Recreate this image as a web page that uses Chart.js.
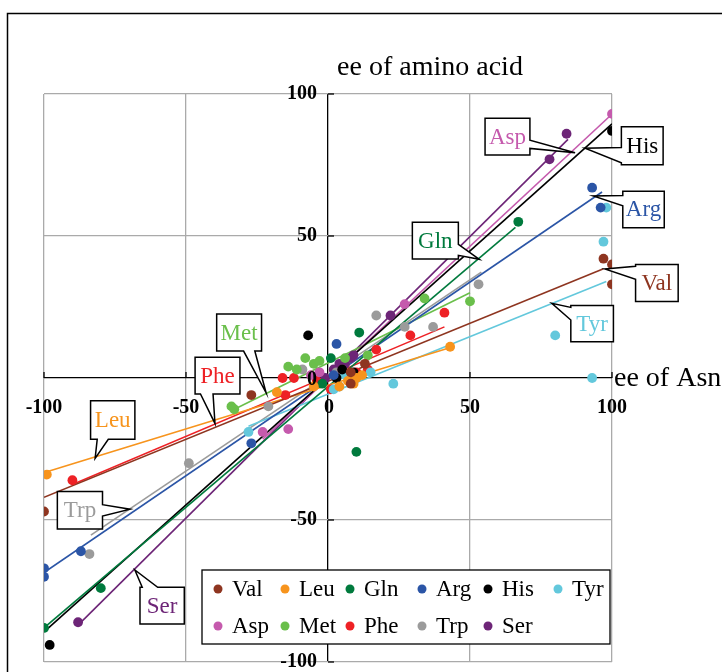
<!DOCTYPE html>
<html><head><meta charset="utf-8">
<script src="https://cdn.jsdelivr.net/npm/chart.js@4"></script>
<style>html,body{margin:0;padding:0;background:#fff}#wrap{width:722px;height:672px;position:relative}</style>
</head><body><div id="wrap"><canvas id="c" width="722" height="672"></canvas></div>
<script>
// ---- Data ----
const seriesNames = ['Val','Leu','Gln','Arg','His','Tyr','Asp','Met','Phe','Trp','Ser'];
const seriesColors = ['#8e3520','#f7941d','#007a3d','#2b55a6','#000000','#63c8dc','#c55aad','#6abf4b','#ee2125','#9b9b9b','#6d2577'];
const xTicks = [-100,-50,0,50,100];
const yTicks = [-100,-50,0,50,100];

const valPts = [[-100,-47],[-27,-6],[8,-2],[13,5],[8,2],[97,42],[100,40],[100,33]];
const leuPts = [[-99,-34],[-18,-5],[7,-1],[10,0],[12,1],[43,11],[-5,-3],[4,-3],[9,-2]];
const glnPts = [[-100,-88],[-80,-74],[1,7],[11,16],[10,-26],[67,55],[-2,-2]];
const argPts = [[-100,-67],[-100,-70],[-87,-61],[-27,-23],[3,12],[93,67],[96,60],[2,1]];
const hisPts = [[-98,-94],[-7,15],[9,2],[100,87],[3,0],[5,3]];
const tyrPts = [[-28,-19],[4,-3],[15,2],[23,-2],[80,15],[93,0],[97,48],[98,60],[6,1],[2,-4]];
const aspPts = [[-23,-19],[-14,-18],[-3,2],[27,26],[100,93],[5,3],[-6,1]];
const metPts = [[-34,-10],[-33,-11],[-11,3],[-5,5],[-3,6],[6,7],[14,8],[34,28],[50,27],[-8,7],[-14,4]];
const phePts = [[-90,-36],[-15,-6],[-12,0],[1,-4],[14,3],[17,10],[29,15],[41,23],[-16,0],[-4,-1],[10,2]];
const trpPts = [[-84,-62],[-49,-30],[-21,-10],[-9,3],[17,22],[27,18],[37,18],[53,33],[3,2]];
const serPts = [[-88,-86],[-1,0],[4,5],[8,7],[22,22],[78,77],[84,86],[2,3],[6,5],[9,8]];

// trend line end points [x1,y1,x2,y2]
const valTrend = [-100,-42,97,38.5];
const leuTrend = [-99,-33,44,11];
const glnTrend = [-100,-88,66,53];
const argTrend = [-100,-68.5,96.5,65.5];
const hisTrend = [-99,-88.5,100,89.5];
const tyrTrend = [-28,-17,98,34];
const aspTrend = [-23,-21.5,99,92];
const metTrend = [-33.5,-11.3,50,30];
const pheTrend = [-90,-37.5,41,18];
const trpTrend = [-83.5,-55.3,54,37.3];
const serTrend = [-87.3,-86.3,84.5,84];

const allPts = [valPts,leuPts,glnPts,argPts,hisPts,tyrPts,aspPts,metPts,phePts,trpPts,serPts];
const allTrends = [valTrend,leuTrend,glnTrend,argTrend,hisTrend,tyrTrend,aspTrend,metTrend,pheTrend,trpTrend,serTrend];

// callouts: box in data units [x1,x2,y1,y2], side of wedge, wedge base fractions, tip in data units
const callouts = {
  Asp:{box:[55.3,71.1,78.5,91.5],side:'right',f:[0.6,0.82],tip:[87,79.3]},
  His:{box:[103.3,118,75.1,88.5],side:'left',f:[0.55,0.95],tip:[90.5,80.9]},
  Arg:{box:[103.8,118.4,52.9,65.8],side:'left',f:[0.12,0.4],tip:[93.4,64.1]},
  Val:{box:[108.3,123.3,26.9,40],side:'left',f:[0.05,0.4],tip:[97.5,38.4]},
  Tyr:{box:[85.5,100.5,12.8,25.5],side:'left',f:[0.05,0.4],tip:[78.8,26.3]},
  Gln:{box:[29.7,45.9,41.9,54.8],side:'right',f:[0.6,0.9],tip:[53.3,41.8]},
  Met:{box:[-39.2,-23.4,9.5,22.5],side:'bottom',f:[0.6,0.85],tip:[-21.8,-5.2]},
  Phe:{box:[-46.8,-31,-5.6,7.3],side:'bottom',f:[0.12,0.4],tip:[-39.8,-16]},
  Leu:{box:[-83.6,-68,-21.6,-8],side:'bottom',f:[0.15,0.4],tip:[-82,-28.3]},
  Trp:{box:[-95.3,-79.4,-53.2,-40],side:'right',f:[0.35,0.65],tip:[-69.7,-46.2]},
  Ser:{box:[-66.2,-50.6,-86.6,-73.7],side:'top',f:[0.05,0.4],tip:[-68,-67.6]}
};

const datasets = [];
seriesNames.forEach((n,i)=>{
  const t = allTrends[i];
  datasets.push({label:n+' trend',data:[{x:t[0],y:t[1]},{x:t[2],y:t[3]}],showLine:true,pointRadius:0,borderColor:seriesColors[i],borderWidth:1.6,order:2});
});
seriesNames.forEach((n,i)=>{
  datasets.push({label:n,data:allPts[i].map(p=>({x:p[0],y:p[1]})),showLine:false,pointRadius:4.9,pointBorderWidth:0,backgroundColor:seriesColors[i],borderColor:seriesColors[i],order:1});
});

const SERIF = "'Liberation Serif','Times New Roman',serif";

const decor = {
  id:'decor',
  beforeDraw(chart){
    const c = chart.ctx;
    c.save(); c.fillStyle='#fff'; c.fillRect(0,0,chart.width,chart.height); c.restore();
  },
  afterDraw(chart){
    const c = chart.ctx, xs = chart.scales.x, ys = chart.scales.y;
    const x0 = xs.getPixelForValue(0), y0 = ys.getPixelForValue(0);
    c.save();
    // tick marks
    c.strokeStyle='#000'; c.lineWidth=1.3;
    xTicks.forEach(v=>{ if(v===0) return; const px=xs.getPixelForValue(v); c.beginPath(); c.moveTo(px,y0); c.lineTo(px,y0-6); c.stroke();});
    yTicks.forEach(v=>{ if(v===0) return; const py=ys.getPixelForValue(v); c.beginPath(); c.moveTo(x0,py); c.lineTo(x0+6,py); c.stroke();});
    // tick labels
    c.fillStyle='#000'; c.font='bold 20px '+SERIF;
    c.textAlign='center'; c.textBaseline='middle';
    xTicks.forEach(v=>{ c.fillText(String(v), xs.getPixelForValue(v)+(v===0?1:0), y0+30); });
    c.textAlign='right';
    yTicks.forEach(v=>{ c.fillText(String(v), x0-11, ys.getPixelForValue(v)+(v===0?2:0)); });
    // axis titles
    c.font='28px '+SERIF; c.textAlign='center'; c.textBaseline='alphabetic';
    c.fillText('ee of amino acid', 430, 75);
    c.textAlign='left'; c.textBaseline='middle';
    c.fillText('ee of Asn', xs.getPixelForValue(100)+2, y0+1);
    // callouts
    seriesNames.forEach((n,i)=>{
      const co = callouts[n]; if(!co) return;
      const L=xs.getPixelForValue(co.box[0]), R=xs.getPixelForValue(co.box[1]);
      const T=ys.getPixelForValue(co.box[3]), B=ys.getPixelForValue(co.box[2]);
      const tx=xs.getPixelForValue(co.tip[0]), ty=ys.getPixelForValue(co.tip[1]);
      const W=R-L, H=B-T;
      c.beginPath();
      c.moveTo(L,T);
      if(co.side==='top'){ c.lineTo(L+W*co.f[0],T); c.lineTo(tx,ty); c.lineTo(L+W*co.f[1],T); }
      c.lineTo(R,T);
      if(co.side==='right'){ c.lineTo(R,T+H*co.f[0]); c.lineTo(tx,ty); c.lineTo(R,T+H*co.f[1]); }
      c.lineTo(R,B);
      if(co.side==='bottom'){ c.lineTo(L+W*co.f[1],B); c.lineTo(tx,ty); c.lineTo(L+W*co.f[0],B); }
      c.lineTo(L,B);
      if(co.side==='left'){ c.lineTo(L,T+H*co.f[1]); c.lineTo(tx,ty); c.lineTo(L,T+H*co.f[0]); }
      c.closePath();
      c.fillStyle='#fff'; c.fill();
      c.strokeStyle='#000'; c.lineWidth=1.5; c.stroke();
      c.fillStyle=seriesColors[i]; c.font='23px '+SERIF; c.textAlign='center'; c.textBaseline='middle';
      c.fillText(n,(L+R)/2,(T+B)/2+1);
    });
    // legend
    const lx=202, ly=570, lw=408, lh=74;
    c.fillStyle='#fff'; c.fillRect(lx,ly,lw,lh);
    c.strokeStyle='#000'; c.lineWidth=1.3; c.strokeRect(lx,ly,lw,lh);
    const colX=[16,83,148,220,286,356], rowY=[19,56];
    c.font='23px '+SERIF; c.textAlign='left'; c.textBaseline='middle';
    seriesNames.forEach((n,i)=>{
      const r=Math.floor(i/6), k=i%6;
      const dx=lx+colX[k], dy=ly+rowY[r];
      c.fillStyle=seriesColors[i]; c.beginPath(); c.arc(dx,dy,4.5,0,Math.PI*2); c.fill();
      c.fillStyle='#000'; c.fillText(n,dx+14,dy+1);
    });
    // outer frame
    c.strokeStyle='#000'; c.lineWidth=1.5; c.strokeRect(7.5,13.5,760,720);
    c.restore();
  }
};

new Chart(document.getElementById('c'),{
  type:'scatter',
  data:{datasets},
  options:{
    responsive:false, animation:false, devicePixelRatio:1,
    layout:{padding:{left:44,right:110,top:94,bottom:10}},
    plugins:{legend:{display:false},tooltip:{enabled:false}},
    scales:{
      x:{type:'linear',min:-100,max:100,ticks:{display:false,stepSize:50},
         grid:{drawTicks:false,color:c=>c.tick&&c.tick.value===0?'#000':'#aaaaaa',lineWidth:1.3},border:{display:false}},
      y:{type:'linear',min:-100,max:100,ticks:{display:false,stepSize:50},
         grid:{drawTicks:false,color:c=>c.tick&&c.tick.value===0?'#000':'#aaaaaa',lineWidth:1.3},border:{display:false}}
    }
  },
  plugins:[decor]
});
</script></body></html>
